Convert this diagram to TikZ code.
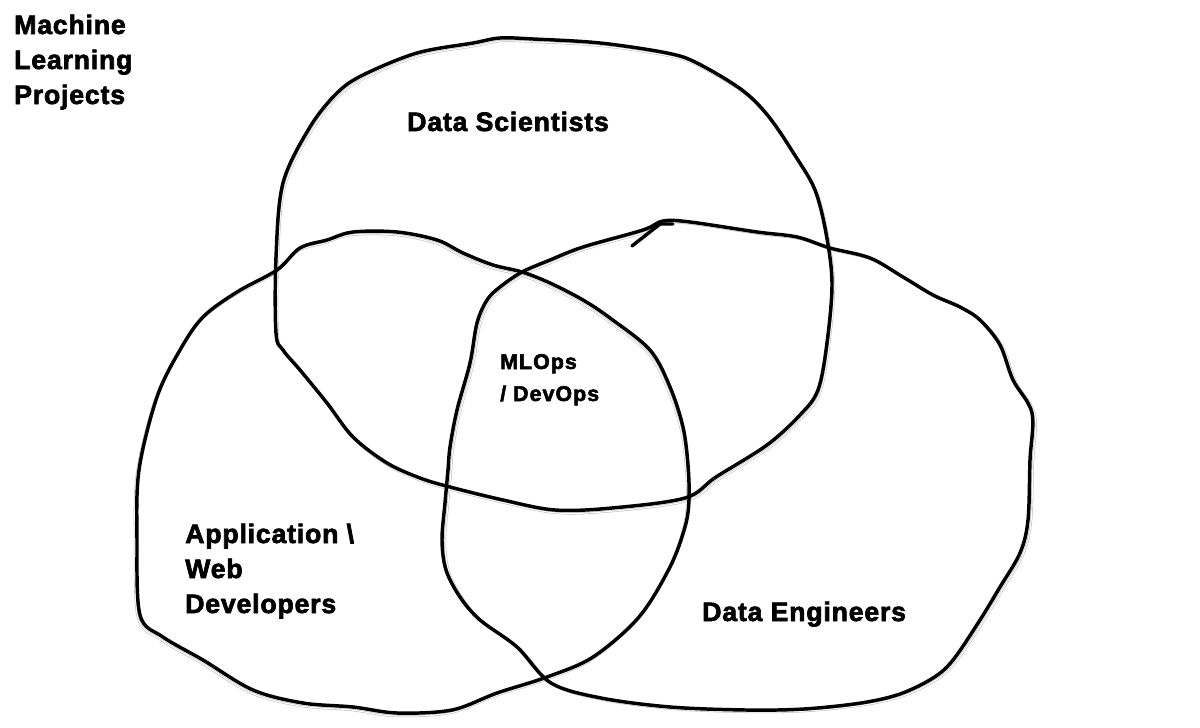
\documentclass[tikz,border=0pt]{standalone}
\usepackage{fontspec}
\setmainfont{Liberation Sans}[LetterSpace=3, BoldFeatures={FakeBold=2.5}]
\usetikzlibrary{positioning}
\newcommand{\dsBlob}[1]{\draw[#1] plot[smooth cycle, tension=0.55] coordinates {(276,333) (276,257) (283,183) (310,127) (337,93) (363,75) (417,53) (473,43) (500,38) (533,39) (600,43) (667,53) (697,63) (742,90) (769,117) (796,157) (815,190) (826,233) (832,283) (827,343) (818,390) (800,415) (767,445) (716,477) (685,498) (612,508) (555,510) (503,500) (450,487) (420,478) (387,463) (353,437) (327,403) (300,370) (283,350)};}
\newcommand{\adBlob}[1]{\draw[#1] plot[smooth cycle, tension=0.55] coordinates {(353,232) (397,232) (437,240) (463,253) (493,265) (522,272) (550,283) (583,300) (610,318) (650,350) (670,387) (683,427) (688,465) (689,500) (685,527) (670,567) (639,617) (593,657) (547,677) (497,693) (452,710) (397,713) (353,707) (303,703) (253,690) (203,660) (163,637) (140,615) (137,540) (139,470) (157,397) (180,350) (203,317) (237,292) (277,270) (300,248) (327,240)};}
\newcommand{\deBlob}[1]{\draw[#1] plot[smooth cycle, tension=0.55] coordinates {(522,272) (550,260) (583,247) (643,230) (663,221) (690,222) (757,232) (797,237) (830,248) (870,258) (903,277) (933,295) (960,307) (980,320) (1000,345) (1013,380) (1032,413) (1030,460) (1028,520) (1020,553) (1000,587) (980,620) (953,660) (933,678) (900,694) (861,703) (804,709) (746,710) (670,707) (601,698) (551,683) (517,647) (480,620) (460,597) (446,570) (442,540) (445,503) (448,470) (450,447) (457,410) (470,363) (477,323) (487,300) (500,287)};}

\begin{document}
\begin{tikzpicture}[x=0.75pt, y=-0.75pt]
	\tikzset{blobLine/.style={draw=black, line width=2.6pt, line join=round, line cap=round}}
	\tikzset{ghostLine/.style={draw=gray!55, line width=0.4pt, double=white, double distance=0.8pt}}
	\tikzset{bigText/.style={inner sep=0pt, anchor=base west, align=left, font=\fontsize{20}{26.25}\selectfont\bfseries}}
	\tikzset{smallText/.style={inner sep=0pt, anchor=base west, align=left, font=\fontsize{16}{24}\selectfont\addfontfeature{LetterSpace=5}\bfseries}}
	\useasboundingbox (0,0) rectangle (1200,728);
		% ghost strokes
		\dsBlob{ghostLine, shift={(2,3)}}
		\adBlob{ghostLine, shift={(-2,3)}}
		\deBlob{ghostLine, shift={(3,2)}}
		% blobs
		\dsBlob{blobLine}
		\adBlob{blobLine}
		\deBlob{blobLine}
		\draw[blobLine] (632,246) -- (660,224) -- (673,224);
		% labels (base = last line)
		\node[bigText] (title) at (14,104) {Machine\\Learning\\Projects};
		\node[bigText] (ds) at (407,131) {Data Scientists};
		\node[smallText] (mlops) at (500,401) {MLOps\\/ DevOps};
		\node[bigText] (appdev) at (185,613) {Application \textbackslash\\Web\\Developers};
		\node[bigText] (de) at (702,621) {Data Engineers};
\end{tikzpicture}
\end{document}
